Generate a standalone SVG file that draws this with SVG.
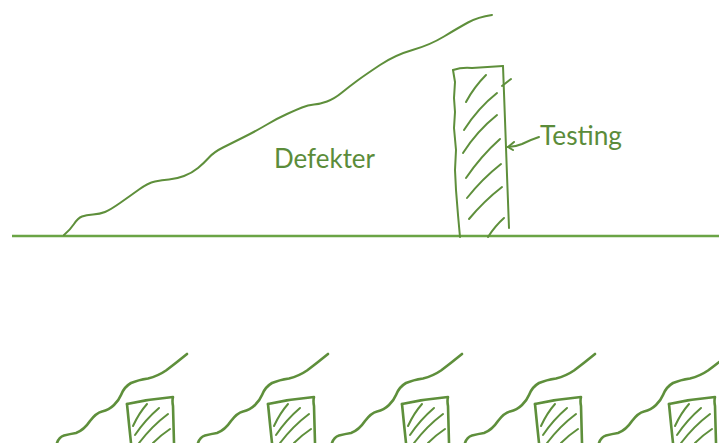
<svg xmlns="http://www.w3.org/2000/svg" xmlns:xlink="http://www.w3.org/1999/xlink" width="719" height="443" viewBox="0 0 719 443">
  <style>
    .pen { fill: none; stroke: #5e8f3b; stroke-width: 2; stroke-linecap: round; stroke-linejoin: round; }
    .pen-thick { fill: none; stroke: #5e8f3b; stroke-width: 2.6; stroke-linecap: round; stroke-linejoin: round; }
    .ground { stroke: #6aa445; stroke-width: 2.5; }
    .label { font-family: Lato, "Open Sans", "Liberation Sans", sans-serif; font-size: 27px; fill: #5b8c3a; }
  </style>
  <defs>
    <!-- one small cycle: defect curve plus a short hatched test bar -->
    <g id="cycle">
      <path class="pen-thick" d="M57,443 Q59,437 64,435.5 Q70,434 76,433 Q84,430 90,421 Q96,413 102,411.5 Q109,410 114,405 Q119,400 121,395 Q124,387 131,383 Q138,380 148,378.5 Q158,376 166,370.5 Q176,363 187,354"/>
      <path class="pen-thick" d="M127,404 Q150,399 173,397 Q172,401 173,406 L174,443"/>
      <path class="pen-thick" d="M127,404 L129,424 L131,443"/>
      <path class="pen" d="M133,426 Q139,413 147,404"/>
      <path class="pen" d="M135,435 Q145,420 159,408"/>
      <path class="pen" d="M139,443 Q152,426 168,414"/>
      <path class="pen" d="M153,443 Q161,435 170,429"/>
    </g>
  </defs>

  <!-- ground line -->
  <line class="ground" x1="12" y1="236" x2="719" y2="236"/>

  <!-- cumulative defects curve -->
  <g id="defects">
    <path class="pen" d="M64,235 Q70,230 74,224 Q78,218 82,216.5 Q86,215 93,214.5 Q100,214 105,212 Q110,210 120,203 Q130,196 139,189.5 Q148,183 155,181.5 Q162,180 169,179.5 Q176,179 184,176 Q192,173 198,168 Q204,163 209,157.5 Q214,152 223,147.5 Q232,143 244,137 Q256,131 267,124.5 Q278,118 287,114 Q296,110 302,107.5 Q308,105 314,104.5 Q320,104 327,101.5 Q334,99 342,92.5 Q350,86 357.5,80.5 Q365,75 380,65 Q395,55 412.5,50 Q430,45 444,36.5 Q458,28 468,22.5 Q478,17 492,15"/>
    <text class="label" x="274" y="168" textLength="101" lengthAdjust="spacingAndGlyphs">Defekter</text>
  </g>

  <!-- single testing phase bar -->
  <g id="testing">
    <path class="pen" d="M453,70 Q462,67 472,68 L503,66"/>
    <path class="pen" d="M453,70 L455,82 L454,98 L455,112 L454,128 L456,150 L455,170 L456,190 L458,215 L460,237"/>
    <path class="pen" d="M503,66 L505,120 L507,175 L509,228"/>
    <path class="pen" d="M466,102 Q474,87 486,75"/>
    <path class="pen" d="M502,86 L511,79"/>
    <path class="pen" d="M464,130 Q478,108 497,93"/>
    <path class="pen" d="M463,153 Q477,131 497,115"/>
    <path class="pen" d="M466,178 Q481,156 500,139"/>
    <path class="pen" d="M467,198 Q482,179 501,164"/>
    <path class="pen" d="M469,219 Q484,201 502,187"/>
    <path class="pen" d="M488,237 Q495,226 504,218"/>
    <text class="label" x="540" y="145" textLength="82" lengthAdjust="spacingAndGlyphs">Testing</text>
  </g>

  <!-- label pointer -->
  <g id="connectors">
    <path class="pen" d="M539,137 Q530,140 522,144 Q515,147 508,147"/>
    <path class="pen" d="M508,147 L514,142"/>
    <path class="pen" d="M508,147 L513,150"/>
  </g>

  <!-- repeated short cycles -->
  <g id="cycle-1"><use xlink:href="#cycle"/></g>
  <g id="cycle-2"><use xlink:href="#cycle" transform="translate(141,0)"/></g>
  <g id="cycle-3"><use xlink:href="#cycle" transform="translate(275,0)"/></g>
  <g id="cycle-4"><use xlink:href="#cycle" transform="translate(408,0)"/></g>
  <g id="cycle-5"><use xlink:href="#cycle" transform="translate(542,0)"/></g>
</svg>
